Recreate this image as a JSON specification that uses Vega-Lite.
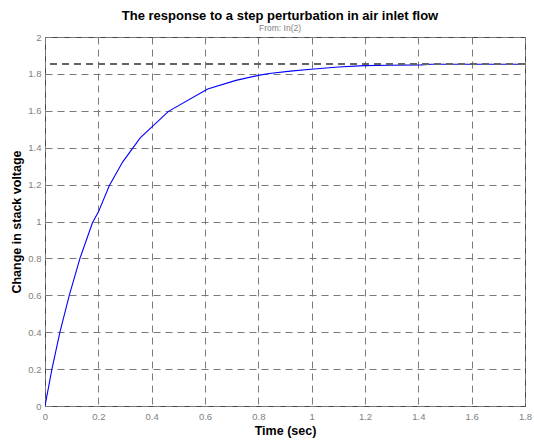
{
  "$schema": "https://vega.github.io/schema/vega-lite/v6.json",
  "width": 480,
  "height": 369,
  "autosize": "none",
  "padding": {"left": 45, "top": 37, "right": 9, "bottom": 35},
  "background": "white",
  "config": {
    "font": "Liberation Sans",
    "view": {"stroke": "#444444", "strokeWidth": 1},
    "axis": {
      "domain": false,
      "ticks": false,
      "grid": true,
      "gridColor": "#7a7a7a",
      "gridDash": [7, 5],
      "gridWidth": 1,
      "gridOpacity": 1,
      "labelColor": "#808080",
      "labelFontSize": 9.5,
      "labelFont": "Liberation Sans",
      "labelOverlap": false,
      "format": "~g",
      "titleFont": "Liberation Sans",
      "titleFontSize": 12.5,
      "titleFontWeight": "bold",
      "titleColor": "#000000"
    }
  },
  "title": {
    "text": "The response to a step perturbation in air inlet flow",
    "subtitle": "From: In(2)",
    "frame": "group",
    "anchor": "middle",
    "dx": -5,
    "font": "Liberation Sans",
    "fontSize": 13,
    "fontWeight": "bold",
    "color": "#000000",
    "subtitleFont": "Liberation Sans",
    "subtitleFontSize": 8.5,
    "subtitleColor": "#808080",
    "subtitlePadding": 1,
    "offset": 0
  },
  "data": {
    "values": [
      {"t": 0, "v": 0},
      {"t": 0.026, "v": 0.2},
      {"t": 0.056, "v": 0.4},
      {"t": 0.091, "v": 0.6},
      {"t": 0.131, "v": 0.8},
      {"t": 0.178, "v": 0.993},
      {"t": 0.2, "v": 1.051},
      {"t": 0.241, "v": 1.194},
      {"t": 0.291, "v": 1.322},
      {"t": 0.357, "v": 1.453},
      {"t": 0.463, "v": 1.597},
      {"t": 0.61, "v": 1.718},
      {"t": 0.716, "v": 1.765},
      {"t": 0.8, "v": 1.792},
      {"t": 0.841, "v": 1.802},
      {"t": 0.92, "v": 1.815},
      {"t": 0.997, "v": 1.825},
      {"t": 1.1, "v": 1.837},
      {"t": 1.197, "v": 1.845},
      {"t": 1.291, "v": 1.847},
      {"t": 1.41, "v": 1.849},
      {"t": 1.45, "v": 1.852},
      {"t": 1.8, "v": 1.852}
    ]
  },
  "layer": [
    {
      "mark": {"type": "line", "color": "#0000ff", "strokeWidth": 1.1, "clip": true},
      "encoding": {
        "x": {
          "field": "t",
          "type": "quantitative",
          "scale": {"domain": [0, 1.8], "nice": false},
          "axis": {"values": [0, 0.2, 0.4, 0.6, 0.8, 1, 1.2, 1.4, 1.6, 1.8], "title": "Time (sec)", "labelPadding": 5, "titlePadding": 4, "labelFlush": false}
        },
        "y": {
          "field": "v",
          "type": "quantitative",
          "scale": {"domain": [0, 2], "nice": false},
          "axis": {"values": [0, 0.2, 0.4, 0.6, 0.8, 1, 1.2, 1.4, 1.6, 1.8, 2], "title": "Change in stack voltage", "labelPadding": 4, "titlePadding": 4, "labelFlush": false}
        }
      }
    },
    {
      "mark": {"type": "rule", "color": "#666666", "strokeDash": [7, 5], "strokeWidth": 1},
      "encoding": {
        "y": {
          "datum": 1.852,
          "type": "quantitative",
          "scale": {"domain": [0, 2], "nice": false},
          "axis": {"values": [0, 0.2, 0.4, 0.6, 0.8, 1, 1.2, 1.4, 1.6, 1.8, 2], "title": "Change in stack voltage", "labelPadding": 4, "titlePadding": 4, "labelFlush": false}
        }
      }
    }
  ]
}
